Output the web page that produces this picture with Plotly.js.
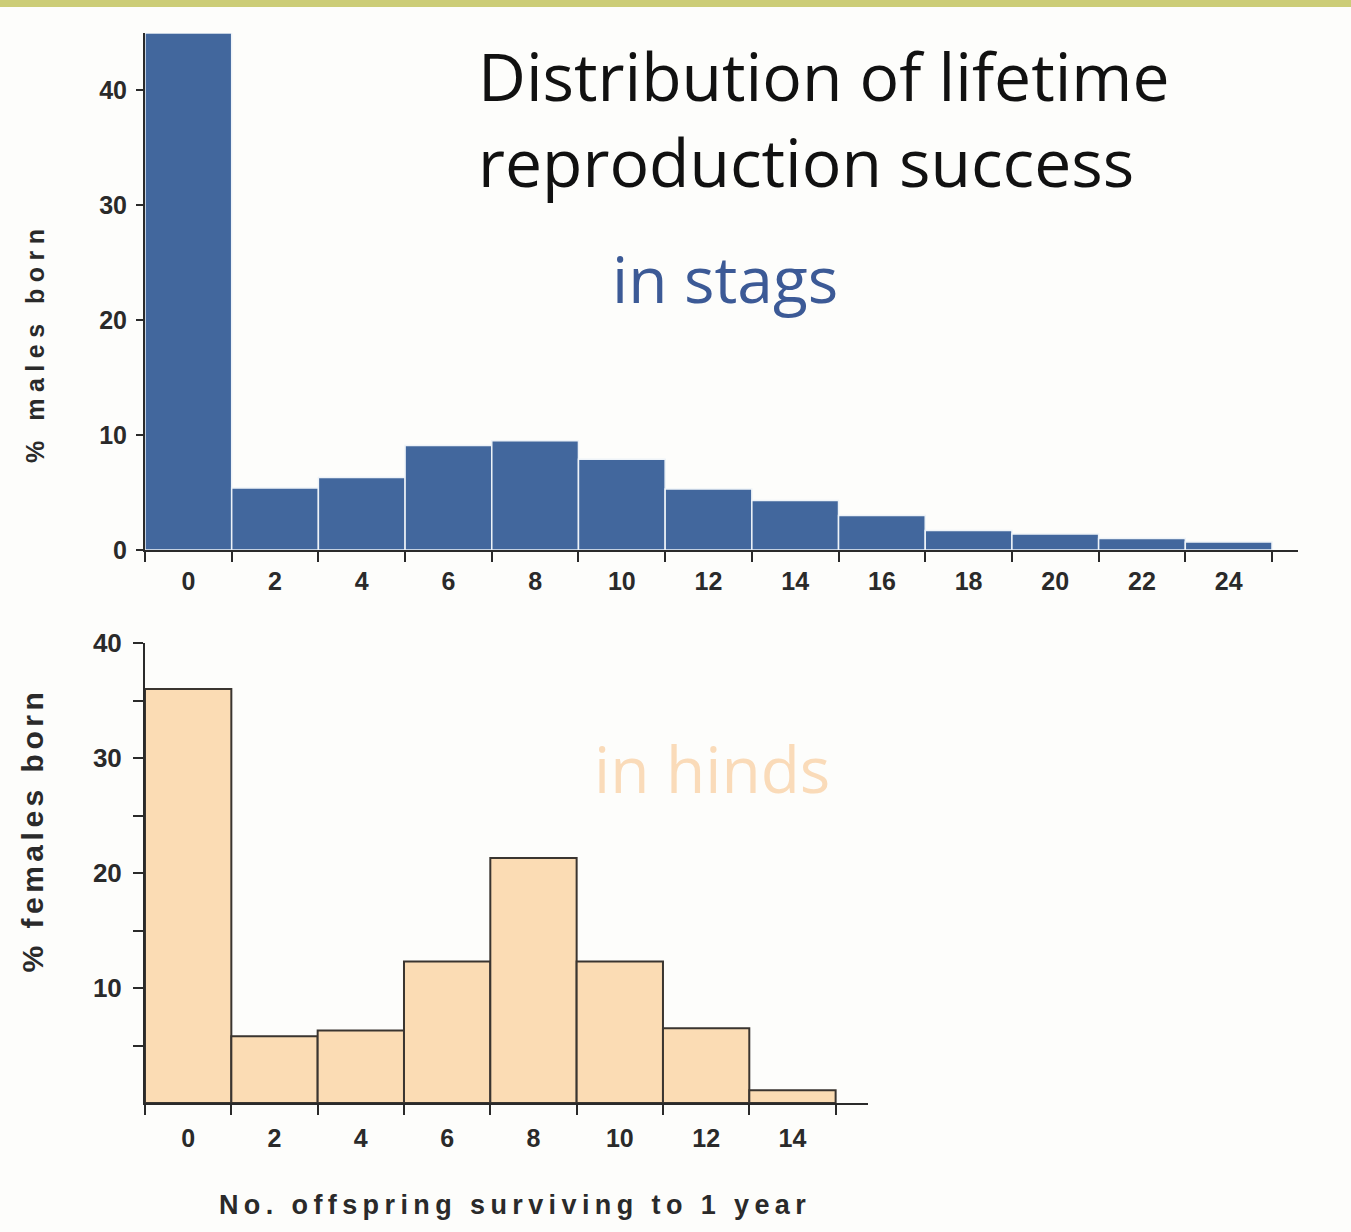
<!DOCTYPE html>
<html>
<head>
<meta charset="utf-8">
<script src="https://cdn.plot.ly/plotly-3.0.1.min.js"></script>
<style>
html, body { margin:0; padding:0; background:#fdfdfb; }
#band { position:absolute; left:0; top:0; width:1351px; height:7px; background:#cccd77; z-index:10; }
#chart { width:1351px; height:1232px; }
.annotation[data-index="0"] .annotation-text { letter-spacing:6.5px; }
.annotation[data-index="1"] .annotation-text { letter-spacing:4.5px; }
.annotation[data-index="2"] .annotation-text { letter-spacing:5.4px; }
</style>
</head>
<body>
<div id="band"></div>
<div id="chart"></div>
<script>
// ---- data ----
const stagOffspring = [0, 2, 4, 6, 8, 10, 12, 14, 16, 18, 20, 22, 24];
const stagPercent   = [45, 5.4, 6.3, 9.1, 9.5, 7.9, 5.3, 4.3, 3.0, 1.7, 1.4, 1.0, 0.7];

const hindOffspring = [0, 2, 4, 6, 8, 10, 12, 14];
const hindPercent   = [36, 5.8, 6.3, 12.3, 21.3, 12.3, 6.5, 1.1];

const stagYTicks = [0, 10, 20, 30, 40];
const hindYTicks = [10, 20, 30, 40];

const titleText = 'Distribution of lifetime<br>reproduction success';
const stagLabel = 'in stags';
const hindLabel = 'in hinds';
const stagYTitle = '% males born';
const hindYTitle = '% females born';
const xTitle = 'No. offspring surviving to 1 year';

// ---- layout helpers ----
const W = 1351, H = 1232;
const px = x => x / W;
const py = y => 1 - y / H;

const axisCol = '#2a2a2a';
const tickFont = {family: 'Liberation Sans, Arial, sans-serif', size: 25, weight: 'bold', color: '#2a2a2a'};
const labelFont = {family: 'Liberation Sans, Arial, sans-serif', weight: 'bold', color: '#2a2a2a'};
const titleFamily = 'Open Sans, Noto Sans, sans-serif';

const traces = [
  {
    type: 'bar', x: stagOffspring, y: stagPercent, width: 2,
    xaxis: 'x', yaxis: 'y',
    marker: {color: '#42679d', line: {color: '#eef3f8', width: 1.5}},
    hoverinfo: 'x+y', showlegend: false
  },
  {
    type: 'bar', x: hindOffspring, y: hindPercent, width: 2,
    xaxis: 'x2', yaxis: 'y2',
    marker: {color: '#fbdcb4', line: {color: '#3a3530', width: 2}},
    hoverinfo: 'x+y', showlegend: false
  }
];

const commonX = {
  showline: true, linecolor: axisCol, linewidth: 2,
  zeroline: false, showgrid: false,
  tickmode: 'array', ticks: '',
  tickfont: tickFont, ticklabelstandoff: 8,
  minor: {ticks: 'outside', tick0: 1, dtick: 2, ticklen: 10, tickwidth: 2, tickcolor: axisCol, showgrid: false}
};

const layout = {
  width: W, height: H,
  margin: {l: 0, r: 0, t: 0, b: 0},
  paper_bgcolor: '#fdfdfb', plot_bgcolor: 'rgba(0,0,0,0)',
  bargap: 0,
  title: {
    text: titleText, x: px(478), xanchor: 'left', xref: 'paper',
    y: py(101), yanchor: 'top', yref: 'paper',
    font: {family: titleFamily, size: 66, color: '#111111'}
  },
  xaxis: Object.assign({}, commonX, {
    domain: [px(145), px(1298)], range: [-1, 25.6], anchor: 'y',
    tickvals: stagOffspring
  }),
  yaxis: {
    domain: [py(550), py(33)], range: [0, 45], anchor: 'x',
    showline: true, linecolor: axisCol, linewidth: 2,
    zeroline: false, showgrid: false,
    tickmode: 'array', tickvals: stagYTicks,
    ticks: 'outside', ticklen: 7, tickwidth: 2, tickcolor: axisCol,
    tickfont: tickFont, ticklabelstandoff: 4
  },
  xaxis2: Object.assign({}, commonX, {
    domain: [px(145), px(868)], range: [-1, 15.75], anchor: 'y2',
    tickvals: hindOffspring, ticklabelstandoff: 12
  }),
  yaxis2: {
    domain: [py(1103), py(643)], range: [0, 40], anchor: 'x2',
    showline: true, linecolor: axisCol, linewidth: 2,
    zeroline: false, showgrid: false,
    tickmode: 'array', tickvals: hindYTicks,
    ticks: 'outside', ticklen: 10, tickwidth: 2, tickcolor: axisCol,
    tickfont: Object.assign({}, tickFont, {size: 26}), ticklabelstandoff: 6,
    minor: {ticks: 'outside', tick0: 5, dtick: 10, ticklen: 10, tickwidth: 2, tickcolor: axisCol, showgrid: false}
  },
  annotations: [
    {text: stagYTitle, x: px(35), y: py(343), xref: 'paper', yref: 'paper',
     textangle: -90, showarrow: false, xanchor: 'center', yanchor: 'middle',
     font: Object.assign({}, labelFont, {size: 25})},
    {text: hindYTitle, x: px(32), y: py(830), xref: 'paper', yref: 'paper',
     textangle: -90, showarrow: false, xanchor: 'center', yanchor: 'middle',
     font: Object.assign({}, labelFont, {size: 30})},
    {text: xTitle, x: px(515), y: py(1205), xref: 'paper', yref: 'paper',
     showarrow: false, xanchor: 'center', yanchor: 'middle',
     font: Object.assign({}, labelFont, {size: 27})},
    {text: stagLabel, x: px(725), y: py(278), xref: 'paper', yref: 'paper',
     showarrow: false, xanchor: 'center', yanchor: 'middle',
     font: {family: titleFamily, size: 64, color: '#3c5a96'}},
    {text: hindLabel, x: px(712), y: py(768), xref: 'paper', yref: 'paper',
     showarrow: false, xanchor: 'center', yanchor: 'middle',
     font: {family: titleFamily, size: 64, color: '#fadbb9'}}
  ]
};

Plotly.newPlot('chart', traces, layout, {displayModeBar: false, staticPlot: true});
</script>
</body>
</html>
